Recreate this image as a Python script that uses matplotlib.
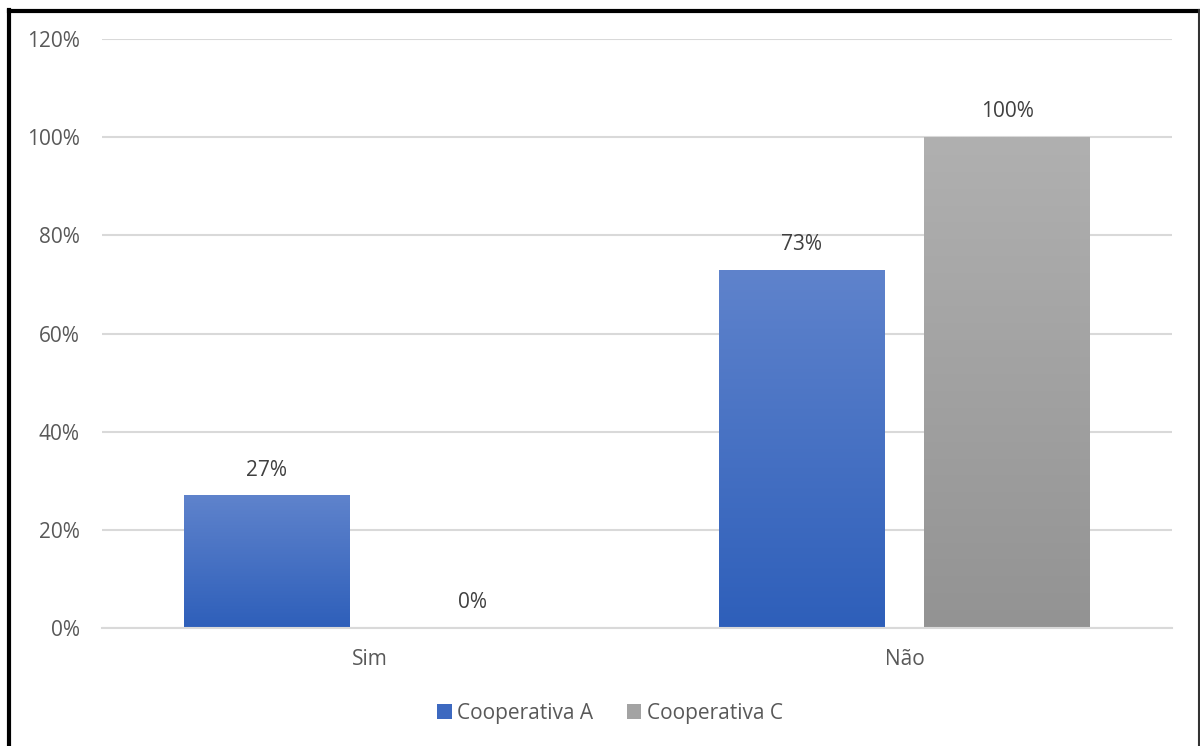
import numpy as np
import matplotlib
matplotlib.use("Agg")
import matplotlib.pyplot as plt
from matplotlib.colors import LinearSegmentedColormap
from matplotlib.lines import Line2D
from matplotlib.patches import Patch

plt.rcParams['font.family'] = ['Open Sans', 'DejaVu Sans']

categories = ['Sim', 'Não']
series_names = ['Cooperativa A', 'Cooperativa C']
coop_a = [27, 73]
coop_c = [0, 100]
y_ticks = [0, 20, 40, 60, 80, 100, 120]

text_color = '#595959'
grad_a = ('#5f83cc', '#2e5fba')
grad_c = ('#b0b0b0', '#939393')
fs = 15

fig = plt.figure(figsize=(12, 7.46), dpi=100)
ax = fig.add_axes([102 / 1200, 1 - 628 / 746, 1070 / 1200, 589 / 746])

x = np.arange(len(categories))
width = 0.31
offset = 0.1916


def gradient_bars(xs, values, colors):
    cmap = LinearSegmentedColormap.from_list('g', [colors[1], colors[0]])
    grad = np.linspace(0, 1, 256).reshape(-1, 1)
    bars = ax.bar(xs, values, width, color='none', edgecolor='none', zorder=2)
    for bar, v in zip(bars, values):
        if v <= 0:
            continue
        x0 = bar.get_x()
        im = ax.imshow(grad, cmap=cmap, aspect='auto', origin='lower',
                       extent=[x0, x0 + bar.get_width(), 0, v], zorder=2)
        im.set_clip_path(bar)
    return bars


bars_a = gradient_bars(x - offset, coop_a, grad_a)
bars_c = gradient_bars(x + offset, coop_c, grad_c)

# value labels above each bar
for xs, vals in ((x - offset, coop_a), (x + offset, coop_c)):
    for xi, v in zip(xs, vals):
        ax.text(xi, v + 3.0, f'{v}%', ha='center', va='bottom',
                fontsize=fs, color='#404040')

ax.set_xlim(-0.5, 1.5)
ax.set_ylim(0, 120)
ax.set_yticks(y_ticks)
ax.set_yticklabels([f'{t}%' for t in y_ticks], fontsize=fs, color=text_color)
ax.set_xticks(x)
ax.set_xticklabels(categories, fontsize=fs, color=text_color)
ax.tick_params(axis='both', length=0)
ax.tick_params(axis='y', pad=16)
ax.tick_params(axis='x', pad=15)
ax.yaxis.grid(True, color='#d9d9d9', linewidth=1.5, zorder=0)
ax.set_axisbelow(True)
for side in ('top', 'right', 'left'):
    ax.spines[side].set_visible(False)
ax.spines['bottom'].set_color('#d9d9d9')
ax.spines['bottom'].set_linewidth(1.5)

handles = [Patch(facecolor='#3d69c0', edgecolor='none'),
           Patch(facecolor='#a3a3a3', edgecolor='none')]
fig.legend(handles, series_names, loc='center', bbox_to_anchor=(610 / 1200, 1 - 713 / 746),
           ncol=2, frameon=False, fontsize=fs, handlelength=0.7, handleheight=0.7,
           handletextpad=0.25, columnspacing=1.6, labelcolor=text_color)

# black frame on left, top and right
fig.add_artist(Line2D([9 / 1200, 9 / 1200], [0, 1 - 10 / 746], transform=fig.transFigure,
                      color='black', linewidth=3))
fig.add_artist(Line2D([9 / 1200, 1], [1 - 10.5 / 746, 1 - 10.5 / 746], transform=fig.transFigure,
                      color='black', linewidth=3))
fig.add_artist(Line2D([1198.5 / 1200, 1198.5 / 1200], [0, 1 - 10 / 746], transform=fig.transFigure,
                      color='#333333', linewidth=1.5))

fig.savefig('out.png', dpi=100)
